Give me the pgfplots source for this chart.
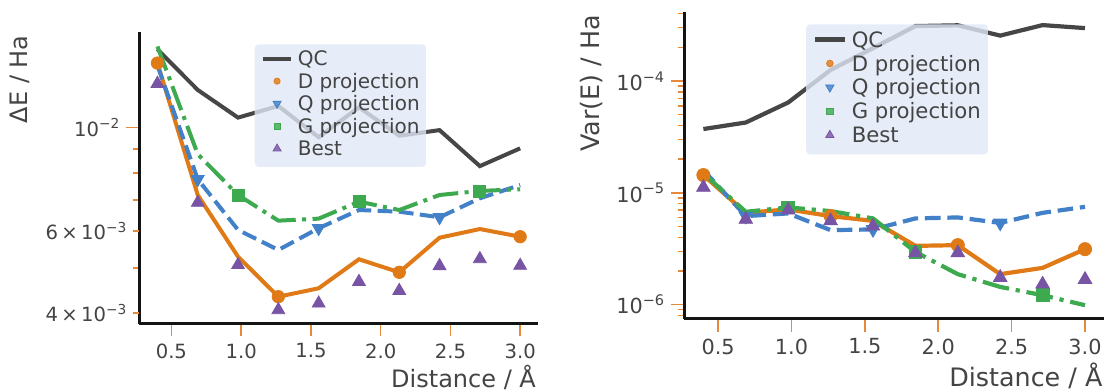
\documentclass[border=0pt]{standalone}
\usepackage{fontspec}
\setmainfont{DejaVu Sans}
\usepackage{pgfplots}
\usepackage{pgfplotstable}
\pgfplotsset{compat=1.18}

\definecolor{cQC}{RGB}{70,70,70}
\definecolor{cD}{RGB}{224,122,22}
\definecolor{cQ}{RGB}{66,128,200}
\definecolor{cG}{RGB}{62,170,80}
\definecolor{cB}{RGB}{120,84,165}
\definecolor{cTick}{RGB}{228,138,58}
\definecolor{cText}{RGB}{68,68,68}
\definecolor{cLeg}{RGB}{224,232,246}

\newcommand{\pw}[1]{10\raisebox{0.39em}{\scalebox{0.7}{−#1}}}
\def\lglen{14pt}
\def\lghalf{7pt}
\pgfplotsset{legend image code/.code={\draw[mark repeat=2,mark phase=2,#1] plot coordinates {(0pt,1pt) (\lghalf,1pt) (\lglen,1pt)};}}

\pgfplotstableread{
x        qc       d         q         g         best
0.4      0.01473  0.01376   0.0136    0.01494   0.01243
0.68889  0.01205  0.007171  0.007751  0.008772  0.006905
0.97778  0.01051  0.005286  0.006034  0.007171  0.005076
1.26667  0.01113  0.004338  0.005465  0.006317  0.004063
1.55556  0.00954  0.004522  0.006085  0.00638   0.004198
1.84444  0.01106  0.005219  0.006658  0.006939  0.004671
2.13333  0.00961  0.004894  0.006603  0.006658  0.004468
2.42222  0.00988  0.005806  0.006423  0.007171  0.005050
2.71111  0.00827  0.006061  0.007056  0.007316  0.005227
3.0      0.00903  0.005835  0.007534  0.007377  0.005058
}\tabL

\pgfplotstableread{
x        qc        d         q         g         best
0.4      3.717e-5  1.44e-5   1.596e-5  1.492e-5  1.118e-5
0.68889  4.251e-5  6.62e-6   6.19e-6   6.76e-6   5.78e-6
0.97778  6.42e-5   7.10e-6   6.54e-6   7.40e-6   7.00e-6
1.26667  1.254e-4  6.19e-6   4.636e-6  6.86e-6   5.61e-6
1.55556  1.966e-4  5.61e-6   4.703e-6  5.90e-6   5.03e-6
1.84444  3.095e-4  3.354e-6  5.90e-6   2.963e-6  2.903e-6
2.13333  3.146e-4  3.403e-6  6.02e-6   1.872e-6  2.903e-6
2.42222  2.544e-4  1.872e-6  5.38e-6   1.44e-6   1.748e-6
2.71111  3.159e-4  2.131e-6  6.62e-6   1.214e-6  1.523e-6
3.0      2.970e-4  3.133e-6  7.49e-6   9.88e-7   1.678e-6
}\tabR

\begin{document}
\begin{tikzpicture}
\path[use as bounding box] (0,0) rectangle (552.5pt,195.5pt);

% ---------------- left panel ----------------
\begin{axis}[
  scale only axis, anchor=south west,
  at={(69.65pt,33.75pt)},
  width=199.5pt, height=145.6pt,
  ymode=log,
  axis x line*=bottom, axis y line*=left,
  axis line style={line width=1.3pt, draw=black!92},
  tick align=outside,
  major tick length=6.5pt, minor tick length=3pt,
  tick style={draw=cTick, line width=0.75pt},
  xmin=0.27, xmax=3.13,
  xtick={0.5,1,1.5,2,2.5,3},
  xticklabels={0.5,1.0,1.5,2.0,2.5,3.0},
  ymin=0.0038, ymax=0.01602,
  ytick={0.01}, yticklabels={\pw{2}},
  minor ytick={0.005,0.007,0.008,0.009},
  extra y ticks={0.004,0.006},
  extra y tick labels={4\,×\,\pw{3}, 6\,×\,\pw{3}},
  extra y tick style={major tick length=3pt},
  tick label style={font=\fontsize{9.8}{11}\selectfont, color=cText},
  xlabel={Distance / Å},
  ylabel={ΔE / Ha},
  xlabel style={at={(axis description cs:0.995,-0.2191)}, anchor=base east, inner sep=0pt, font=\fontsize{12}{14}\selectfont, color=cText},
  ylabel style={at={(axis description cs:-0.2797,0.991)}, anchor=base east, inner sep=0pt, font=\fontsize{12}{14}\selectfont, color=cText},
  legend cell align=left,
  legend style={at={(axis description cs:0.2882,0.960)}, anchor=north west,
    fill=cLeg, fill opacity=0.8, text opacity=1, draw=none, rounded corners=2pt,
    inner xsep=3.2pt, inner ysep=3.4pt, row sep=1.75pt, column sep=2.35pt,
    font=\fontsize{10}{12}\selectfont, text=cText,
    nodes={inner sep=0pt, text height=7.4pt, text depth=2.1pt}},
]
\addplot[cQC, line width=2pt, no marks] table[x=x,y=qc]{\tabL};
\addlegendentry{QC}
\addplot[cD, line width=2pt, no marks, forget plot] table[x=x,y=d]{\tabL};
\addplot[cQ, line width=2pt, no marks, dash pattern=on 7.4pt off 3.2pt, forget plot] table[x=x,y=q]{\tabL};
\addplot[cG, line width=2pt, no marks, dash pattern=on 12.8pt off 3.2pt on 2pt off 3.2pt, forget plot] table[x=x,y=g]{\tabL};
\addplot[only marks, mark=*, mark size=3.1pt, color=cD, line width=0.4pt, mark repeat=3, mark phase=1,
  legend image post style={mark size=1.55pt}] table[x=x,y=d]{\tabL};
\addlegendentry{D projection}
\addplot[only marks, mark=triangle*, mark size=3.7pt, mark options={rotate=180}, color=cQ, line width=0.4pt, mark repeat=3, mark phase=2,
  legend image post style={mark size=2.3pt}] table[x=x,y=q]{\tabL};
\addlegendentry{Q projection}
\addplot[only marks, mark=square*, mark size=3pt, color=cG, line width=0.4pt, mark repeat=3, mark phase=3,
  legend image post style={mark size=1.5pt}] table[x=x,y=g]{\tabL};
\addlegendentry{G projection}
\addplot[only marks, mark=triangle*, mark size=3.7pt, color=cB, line width=0.4pt,
  legend image post style={mark size=2.3pt}] table[x=x,y=best]{\tabL};
\addlegendentry{Best}
\end{axis}

\def\lglen{14.8pt}
\def\lghalf{7.4pt}
% ---------------- right panel ----------------
\begin{axis}[
  scale only axis, anchor=south west,
  at={(342.15pt,36.2pt)},
  width=209.9pt, height=153.5pt,
  ymode=log,
  axis x line*=bottom, axis y line*=left,
  axis line style={line width=1.3pt, draw=black!92},
  tick align=outside,
  major tick length=6.5pt, minor tick length=3pt,
  tick style={draw=cTick, line width=0.75pt},
  xmin=0.27, xmax=3.13,
  xtick={0.5,1,1.5,2,2.5,3},
  xticklabels={0.5,1.0,1.5,2.0,2.5,3.0},
  ymin=7.5e-7, ymax=4.17e-4,
  ytick={1e-6,1e-5,1e-4}, yticklabels={\pw{6},\pw{5},\pw{4}},
  minor ytick={8e-7,9e-7,2e-6,3e-6,4e-6,5e-6,6e-6,7e-6,8e-6,9e-6,2e-5,3e-5,4e-5,5e-5,6e-5,7e-5,8e-5,9e-5,2e-4,3e-4,4e-4},
  tick label style={font=\fontsize{10.4}{12}\selectfont, color=cText},
  xlabel={Distance / Å},
  ylabel={Var(E) / Ha},
  xlabel style={at={(axis description cs:0.997,-0.2225)}, anchor=base east, inner sep=0pt, font=\fontsize{12.7}{15}\selectfont, color=cText},
  ylabel style={at={(axis description cs:-0.2020,0.990)}, anchor=base east, inner sep=0pt, font=\fontsize{12.7}{15}\selectfont, color=cText},
  legend cell align=left,
  legend style={at={(axis description cs:0.2893,0.960)}, anchor=north west,
    fill=cLeg, fill opacity=0.8, text opacity=1, draw=none, rounded corners=2pt,
    inner xsep=3.4pt, inner ysep=3.6pt, row sep=1.9pt, column sep=2.5pt,
    font=\fontsize{10.6}{12.7}\selectfont, text=cText,
    nodes={inner sep=0pt, text height=7.85pt, text depth=2.2pt}},
]
\addplot[cQC, line width=2.1pt, no marks] table[x=x,y=qc]{\tabR};
\addlegendentry{QC}
\addplot[cD, line width=2.1pt, no marks, forget plot] table[x=x,y=d]{\tabR};
\addplot[cQ, line width=2.1pt, no marks, dash pattern=on 7.8pt off 3.4pt, forget plot] table[x=x,y=q]{\tabR};
\addplot[cG, line width=2.1pt, no marks, dash pattern=on 13.5pt off 3.4pt on 2.1pt off 3.4pt, forget plot] table[x=x,y=g]{\tabR};
\addplot[only marks, mark=*, mark size=3.3pt, color=cD, line width=0.4pt, mark repeat=3, mark phase=1,
  legend image post style={mark size=1.65pt}] table[x=x,y=d]{\tabR};
\addlegendentry{D projection}
\addplot[only marks, mark=triangle*, mark size=3.9pt, mark options={rotate=180}, color=cQ, line width=0.4pt, mark repeat=3, mark phase=2,
  legend image post style={mark size=2.4pt}] table[x=x,y=q]{\tabR};
\addlegendentry{Q projection}
\addplot[only marks, mark=square*, mark size=3.2pt, color=cG, line width=0.4pt, mark repeat=3, mark phase=3,
  legend image post style={mark size=1.6pt}] table[x=x,y=g]{\tabR};
\addlegendentry{G projection}
\addplot[only marks, mark=triangle*, mark size=3.9pt, color=cB, line width=0.4pt,
  legend image post style={mark size=2.4pt}] table[x=x,y=best]{\tabR};
\addlegendentry{Best}
\end{axis}
\end{tikzpicture}
\end{document}
